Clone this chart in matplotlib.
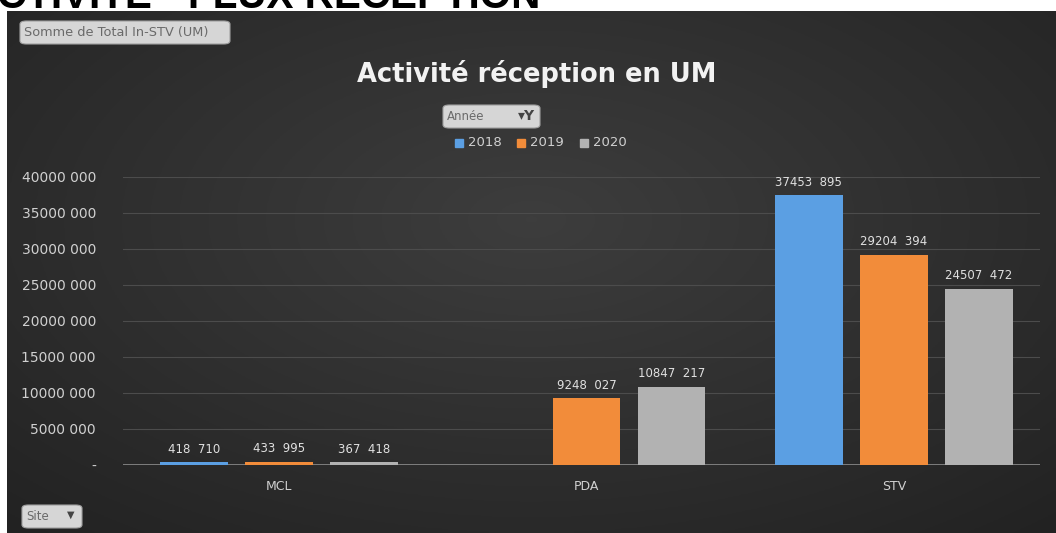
import matplotlib.pyplot as plt
import numpy as np
from matplotlib.patches import FancyBboxPatch, Rectangle

sites = ["MCL", "PDA", "STV"]
years = ["2018", "2019", "2020"]
values_2018 = [418710, np.nan, 37453895]
values_2019 = [433995, 9248027, 29204394]
values_2020 = [367418, 10847217, 24507472]
colors = ["#5b9fe3", "#f28c3a", "#b2b2b2"]
y_ticks = [0, 5000000, 10000000, 15000000, 20000000, 25000000, 30000000, 35000000, 40000000]

W, H = 1056, 533
fig = plt.figure(figsize=(W / 100, H / 100), dpi=100)
fig.patch.set_facecolor("white")
plt.rcParams["font.family"] = "DejaVu Sans"

# dark gradient background of the pivot chart
bg = fig.add_axes([7 / W, 0, 1 - 7 / W, (H - 10.5) / H])
yy, xx = np.mgrid[-1:1:200j, -1:1:400j]
grad = 0.24 - 0.085 * np.sqrt(0.7 * xx ** 2 + 0.6 * (yy + 0.2) ** 2)
bg.imshow(np.dstack([grad, grad, grad]).clip(0, 1), aspect="auto", extent=[0, 1, 0, 1])
bg.set_xlim(0, 1)
bg.set_ylim(0, 1)
bg.axis("off")

# heading of the slide, cut off at the top
fig.text(-32 / W, 1 - 7.5 / H, "ACTIVITE - FLUX RECEPTION", fontsize=29.1, fontweight="bold",
         family="Liberation Sans", color="black", va="baseline", ha="left")

ax = fig.add_axes([123 / W, 68 / H, 917 / W, 288 / H])
ax.set_facecolor("none")
x = np.arange(len(sites))
width = 0.22
offset = 0.277
for i, vals in enumerate([values_2018, values_2019, values_2020]):
    pos = x + (i - 1) * offset
    ax.bar(pos, vals, width, color=colors[i], zorder=3)
    for p, v in zip(pos, vals):
        if np.isnan(v):
            continue
        label = f"{int(v) // 1000}  {int(v) % 1000:03d}"
        ax.text(p, v + 900000, label, ha="center", va="bottom", color="#e0e0e0",
                fontsize=8.5)

ax.set_xlim(-0.507, 2.475)
ax.set_ylim(0, 40000000)
ax.set_yticks(y_ticks)
ax.set_yticklabels(["-"] + [f"{t // 1000000}000 000" for t in y_ticks[1:]])
ax.set_xticks(x)
ax.set_xticklabels(sites)
ax.tick_params(length=0, colors="#d0d0d0")
ax.tick_params(axis="y", pad=19.5, labelsize=10)
ax.tick_params(axis="x", pad=11, labelsize=9)
ax.grid(axis="y", color="#4c4c4c", linewidth=0.8, zorder=0)
for s in ax.spines.values():
    s.set_visible(False)
ax.axhline(0, color="#8c8c8c", linewidth=1.2, zorder=2)

fig.text(537 / W, 1 - 74 / H, "Activité réception en UM", ha="center", va="center",
         fontsize=18.5, fontweight="bold", color="#f2f2f2")

def button(x0, y0, w, h, text, fs=8.5):
    box = FancyBboxPatch((x0 / W, 1 - (y0 + h) / H), w / W, h / H,
                         boxstyle="round,pad=0,rounding_size=0.006",
                         transform=fig.transFigure, facecolor="#d6d6d6",
                         edgecolor="#a0a0a0", linewidth=0.8)
    fig.patches.append(box)
    fig.text((x0 + 4) / W, 1 - (y0 + h / 2) / H, text, ha="left", va="center",
             fontsize=fs, color="#6a6a6a")

button(20, 21, 210, 23, "Somme de Total In-STV (UM)", fs=9.3)
button(443, 105, 97, 23, "Année", fs=8.5)
fig.text(527 / W, 1 - 116 / H, "▾Y", ha="center", va="center", fontsize=10,
         color="#444444", fontweight="bold")
button(22, 505, 60, 23, "Site", fs=8.5)
fig.text(71 / W, 1 - 515 / H, "▼", ha="center", va="center", fontsize=7, color="#444444")

# legend
for lx, yr, c in zip([455, 517, 580], years, colors):
    fig.patches.append(Rectangle((lx / W, 1 - 147 / H), 8 / W, 8 / H,
                                 transform=fig.transFigure, color=c))
    fig.text((lx + 13) / W, 1 - 143 / H, yr, ha="left", va="center", fontsize=9.5,
             color="#d0d0d0")

fig.savefig("out.png", dpi=100)
